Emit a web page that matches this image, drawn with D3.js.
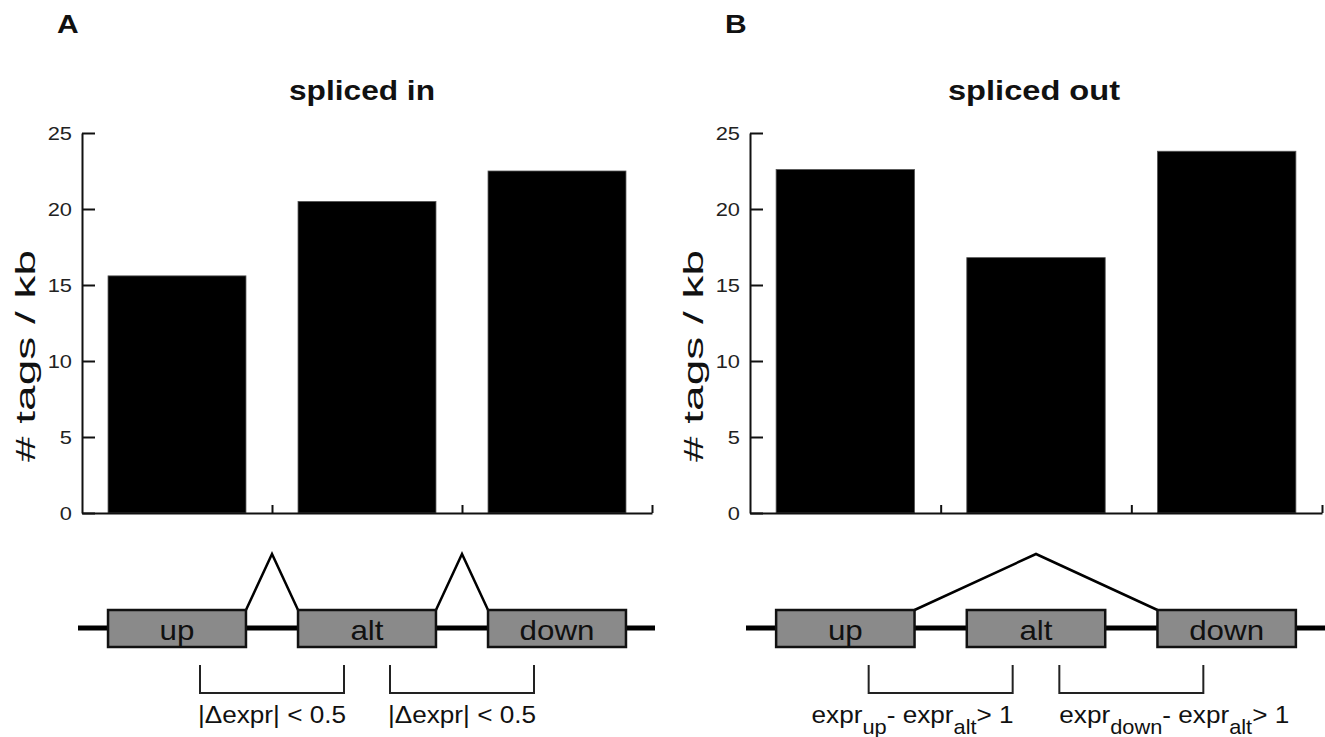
<!DOCTYPE html>
<html>
<head>
<meta charset="utf-8">
<script src="https://cdnjs.cloudflare.com/ajax/libs/d3/7.8.5/d3.min.js"></script>
<style>
  html, body { margin: 0; padding: 0; background: #fff; }
  svg { display: block; font-family: "Liberation Sans", Arial, Helvetica, sans-serif; }
</style>
</head>
<body>
<svg id="chart" width="1325" height="737"></svg>
<script>
// ---- data ----
const categories = ["up", "alt", "down"];
const valuesSplicedIn = [15.6, 20.5, 22.5];
const valuesSplicedOut = [22.6, 16.8, 23.8];
const yTicks = [0, 5, 10, 15, 20, 25];
const panelLetters = ["A", "B"];
const panelTitles = ["spliced in", "spliced out"];
const yLabel = "# tags / kb";
const junctionTypes = ["included", "skipped"];
const bracketLabelsIn = [
  [["|\u0394expr| < 0.5", ""]],
  [["|\u0394expr| < 0.5", ""]]
];
const bracketLabelsOut = [
  [["expr", ""], ["up", "sub"], ["- expr", ""], ["alt", "sub"], ["> 1", ""]],
  [["expr", ""], ["down", "sub"], ["- expr", ""], ["alt", "sub"], ["> 1", ""]]
];

// ---- layout ----
const svg = d3.select("#chart");
const yTop = 133, yBottom = 513;
const panels = [
  { x0: 82, x1: 652, values: valuesSplicedIn, letter: panelLetters[0], title: panelTitles[0],
    titleX: 289, titleLen: 146, junction: junctionTypes[0], labels: bracketLabelsIn, labelAlign: ["middle", "middle"] },
  { x0: 750, x1: 1322, values: valuesSplicedOut, letter: panelLetters[1], title: panelTitles[1],
    titleX: 948, titleLen: 172, junction: junctionTypes[1], labels: bracketLabelsOut, labelAlign: ["end", "start"] }
];

// horizontal stretch of text about its anchor point (reference text is slightly wide)
function stretch(sel, sx) {
  sel.each(function () {
    const el = d3.select(this);
    const ax = +el.attr("x") || 0, ay = +el.attr("y") || 0;
    el.attr("transform", `translate(${ax},${ay}) scale(${sx},1) translate(${-ax},${-ay})`);
  });
}

const y = d3.scaleLinear().domain([0, 25]).range([yBottom, yTop]);

panels.forEach(p => {
  const g = svg.append("g");
  const x = d3.scaleBand().domain(categories).range([p.x0, p.x1])
    .paddingInner(0.274).paddingOuter(0.137);
  const xb = d3.scaleLinear().domain([0, categories.length]).range([p.x0, p.x1]);

  // panel letter
  g.append("text").attr("x", p.x0 - 25).attr("y", 33)
    .attr("font-size", 25).attr("font-weight", "bold").attr("fill", "#111")
    .text(p.letter).call(stretch, 1.2);

  // title
  g.append("text").attr("x", p.titleX).attr("y", 100)
    .attr("font-size", 28).attr("font-weight", "bold").attr("fill", "#111")
    .attr("textLength", p.titleLen).attr("lengthAdjust", "spacingAndGlyphs")
    .text(p.title);

  // bars
  g.selectAll("rect.bar").data(categories).enter().append("rect")
    .attr("class", "bar")
    .attr("x", d => x(d))
    .attr("width", x.bandwidth())
    .attr("y", (d, i) => y(p.values[i]))
    .attr("height", (d, i) => y(0) - y(p.values[i]))
    .attr("fill", "#000")
    .attr("stroke", "#555").attr("stroke-width", 0.8);

  // y axis
  const ya = g.append("g").attr("transform", `translate(${p.x0},0)`)
    .call(d3.axisLeft(y).tickValues(yTicks).tickSizeInner(-13).tickSizeOuter(0).tickPadding(10));
  ya.selectAll("path, line").attr("stroke", "#111").attr("stroke-width", 2);
  ya.selectAll("text").attr("font-size", 19).attr("fill", "#222")
    .attr("font-family", "'Liberation Sans', Arial, sans-serif")
    .call(stretch, 1.15);

  // x axis (ticks at category boundaries)
  const xa = g.append("g").attr("transform", `translate(0,${yBottom})`)
    .call(d3.axisBottom(xb).tickValues([1, 2, 3]).tickSizeInner(-8).tickSizeOuter(0).tickFormat(""));
  xa.selectAll("path, line").attr("stroke", "#111").attr("stroke-width", 2);

  // y label
  g.append("text")
    .attr("transform", `translate(${p.x0 - 47},356) rotate(-90)`)
    .attr("text-anchor", "middle")
    .attr("font-size", 27).attr("fill", "#111")
    .attr("textLength", 212).attr("lengthAdjust", "spacingAndGlyphs")
    .text(yLabel);

  // ---- gene diagram ----
  const lineY = 628, boxTop = 610, boxH = 37, peakY = 554;
  g.append("line").attr("x1", p.x0 - 4).attr("x2", Math.min(p.x1 + 3, 1325))
    .attr("y1", lineY).attr("y2", lineY)
    .attr("stroke", "#000").attr("stroke-width", 5);

  // junctions
  const jp = [];
  if (p.junction === "included") {
    for (let i = 0; i < categories.length - 1; i++) {
      jp.push([[x(categories[i]) + x.bandwidth(), boxTop],
               [xb(i + 1), peakY],
               [x(categories[i + 1]), boxTop]]);
    }
  } else {
    jp.push([[x(categories[0]) + x.bandwidth(), boxTop],
             [x(categories[1]) + x.bandwidth() / 2, peakY],
             [x(categories[2]), boxTop]]);
  }
  g.selectAll("path.junc").data(jp).enter().append("path")
    .attr("class", "junc")
    .attr("d", d3.line())
    .attr("fill", "none").attr("stroke", "#000").attr("stroke-width", 2.5)
    .attr("stroke-linejoin", "miter");

  // exon boxes
  g.selectAll("rect.exon").data(categories).enter().append("rect")
    .attr("class", "exon")
    .attr("x", d => x(d)).attr("width", x.bandwidth())
    .attr("y", boxTop).attr("height", boxH)
    .attr("fill", "#8a8a8a").attr("stroke", "#111").attr("stroke-width", 2.5);
  g.selectAll("text.exon").data(categories).enter().append("text")
    .attr("class", "exon")
    .attr("x", d => x(d) + x.bandwidth() / 2).attr("y", 640)
    .attr("text-anchor", "middle").attr("font-size", 28).attr("fill", "#111")
    .text(d => d)
    .call(stretch, 1.12);

  // brackets
  const half = 72, bTop = 665, bBot = 693;
  [1, 2].forEach((b, i) => {
    const cx = xb(b);
    g.append("path")
      .attr("d", d3.line()([[cx - half, bTop], [cx - half, bBot], [cx + half, bBot], [cx + half, bTop]]))
      .attr("fill", "none").attr("stroke", "#222").attr("stroke-width", 2);
    const align = p.labelAlign[i];
    const tx = align === "middle" ? cx : (align === "end" ? cx + half + 1 : cx - half);
    const t = g.append("text").attr("x", tx).attr("y", 723)
      .attr("text-anchor", align).attr("font-size", 24).attr("fill", "#111");
    let shifted = false;
    p.labels[i].forEach(seg => {
      const ts = t.append("tspan").text(seg[0]);
      if (seg[1] === "sub") {
        ts.attr("font-size", 20).attr("dy", shifted ? 0 : 11);
        shifted = true;
      } else {
        if (shifted) { ts.attr("dy", -11); shifted = false; }
      }
    });
    t.call(stretch, 1.09);
  });
});
</script>
</body>
</html>
